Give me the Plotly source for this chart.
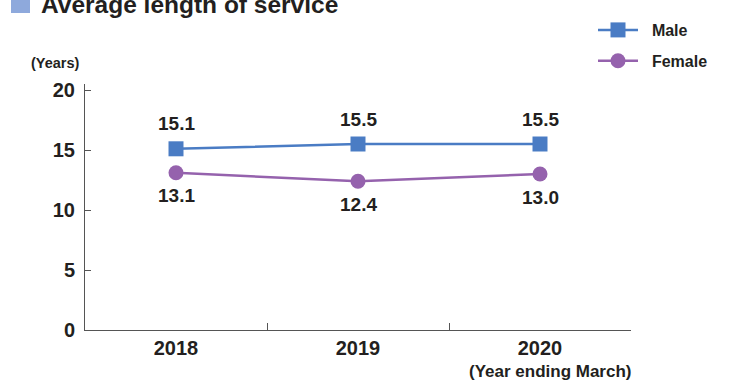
import plotly.graph_objects as go

# Average length of service by fiscal year (years)
years = ["2018", "2019", "2020"]
male = [15.1, 15.5, 15.5]
female = [13.1, 12.4, 13.0]
y_ticks = [0, 5, 10, 15, 20]

MALE_COLOR = "#4a7cc4"
FEMALE_COLOR = "#9562ad"
TEXT_COLOR = "#231f20"
AXIS_COLOR = "#555555"
FONT = "Liberation Sans, Arial, sans-serif"
NBSP = "\u00a0"

W, H = 741, 391
L, R, T, B = 85, 110, 84, 61
plot_w = W - L - R
plot_h = H - T - B


def px_x(px):
    return (px - L) / plot_w


def px_y(py):
    return (H - B - py) / plot_h


fig = go.Figure()

fig.add_trace(go.Scatter(
    x=years, y=male, name=NBSP * 2 + "Male", legendgroup="m",
    mode="lines+markers",
    line=dict(color=MALE_COLOR, width=2.5),
    marker=dict(symbol="square", size=15, color=MALE_COLOR),
    cliponaxis=False,
))
fig.add_trace(go.Scatter(
    x=years, y=female, name=NBSP * 2 + "Female", legendgroup="f",
    mode="lines+markers",
    line=dict(color=FEMALE_COLOR, width=2.5),
    marker=dict(symbol="circle", size=15, color=FEMALE_COLOR),
    cliponaxis=False,
))

# Value labels: male above its markers, female below
# (annotation x on a category axis is the category index)
label_font = dict(size=19, family=FONT, color=TEXT_COLOR, weight="bold")
for i, v in enumerate(male):
    fig.add_annotation(x=i, y=v, text=f"{v:.1f}", showarrow=False,
                       yshift=25, font=label_font)
for i, v in enumerate(female):
    fig.add_annotation(x=i, y=v, text=f"{v:.1f}", showarrow=False,
                       yshift=-23, font=label_font)

fig.update_layout(
    width=W, height=H,
    margin=dict(l=L, r=R, t=T, b=B, autoexpand=False),
    paper_bgcolor="white", plot_bgcolor="white",
    font=dict(family=FONT, color=TEXT_COLOR),
    showlegend=True,
    legend=dict(
        x=px_x(593), y=px_y(13), xanchor="left", yanchor="top",
        font=dict(size=16, family=FONT, color=TEXT_COLOR, weight="bold"),
        itemwidth=40, tracegroupgap=7, bgcolor="rgba(0,0,0,0)",
    ),
    xaxis=dict(
        type="category", range=[-0.5, 2.5],
        showline=True, linecolor=AXIS_COLOR, linewidth=1,
        ticks="inside", tickson="boundaries", ticklen=7,
        tickcolor=AXIS_COLOR, showgrid=False, zeroline=False,
        tickfont=dict(size=20, family=FONT, color=TEXT_COLOR, weight="bold"),
    ),
    yaxis=dict(
        range=[0, 20.5], tickvals=y_ticks,
        showline=True, linecolor=AXIS_COLOR, linewidth=1,
        ticks="inside", ticklen=6, tickcolor=AXIS_COLOR,
        showgrid=False, zeroline=False, ticklabelstandoff=5,
        tickfont=dict(size=20, family=FONT, color=TEXT_COLOR, weight="bold"),
    ),
)

# Title with its square bullet
fig.add_shape(
    type="rect", xref="paper", yref="paper",
    x0=px_x(11), x1=px_x(30), y0=px_y(13), y1=px_y(-6),
    fillcolor="#8ea9dc", line=dict(width=0),
)
fig.add_annotation(
    text="Average length of service", xref="paper", yref="paper",
    x=px_x(39), y=px_y(4), xanchor="left", yanchor="middle", showarrow=False,
    font=dict(size=24.5, family=FONT, color=TEXT_COLOR, weight="bold"),
)
# Unit label and period note
fig.add_annotation(
    text="(Years)", xref="paper", yref="paper",
    x=px_x(55), y=px_y(63), xanchor="center", yanchor="middle", showarrow=False,
    font=dict(size=14.5, family=FONT, color=TEXT_COLOR, weight="bold"),
)
fig.add_annotation(
    text="(Year ending March)", xref="paper", yref="paper",
    x=px_x(550), y=px_y(371), xanchor="center", yanchor="middle", showarrow=False,
    font=dict(size=17, family=FONT, color=TEXT_COLOR, weight="bold"),
)

fig.write_html("out.html")
